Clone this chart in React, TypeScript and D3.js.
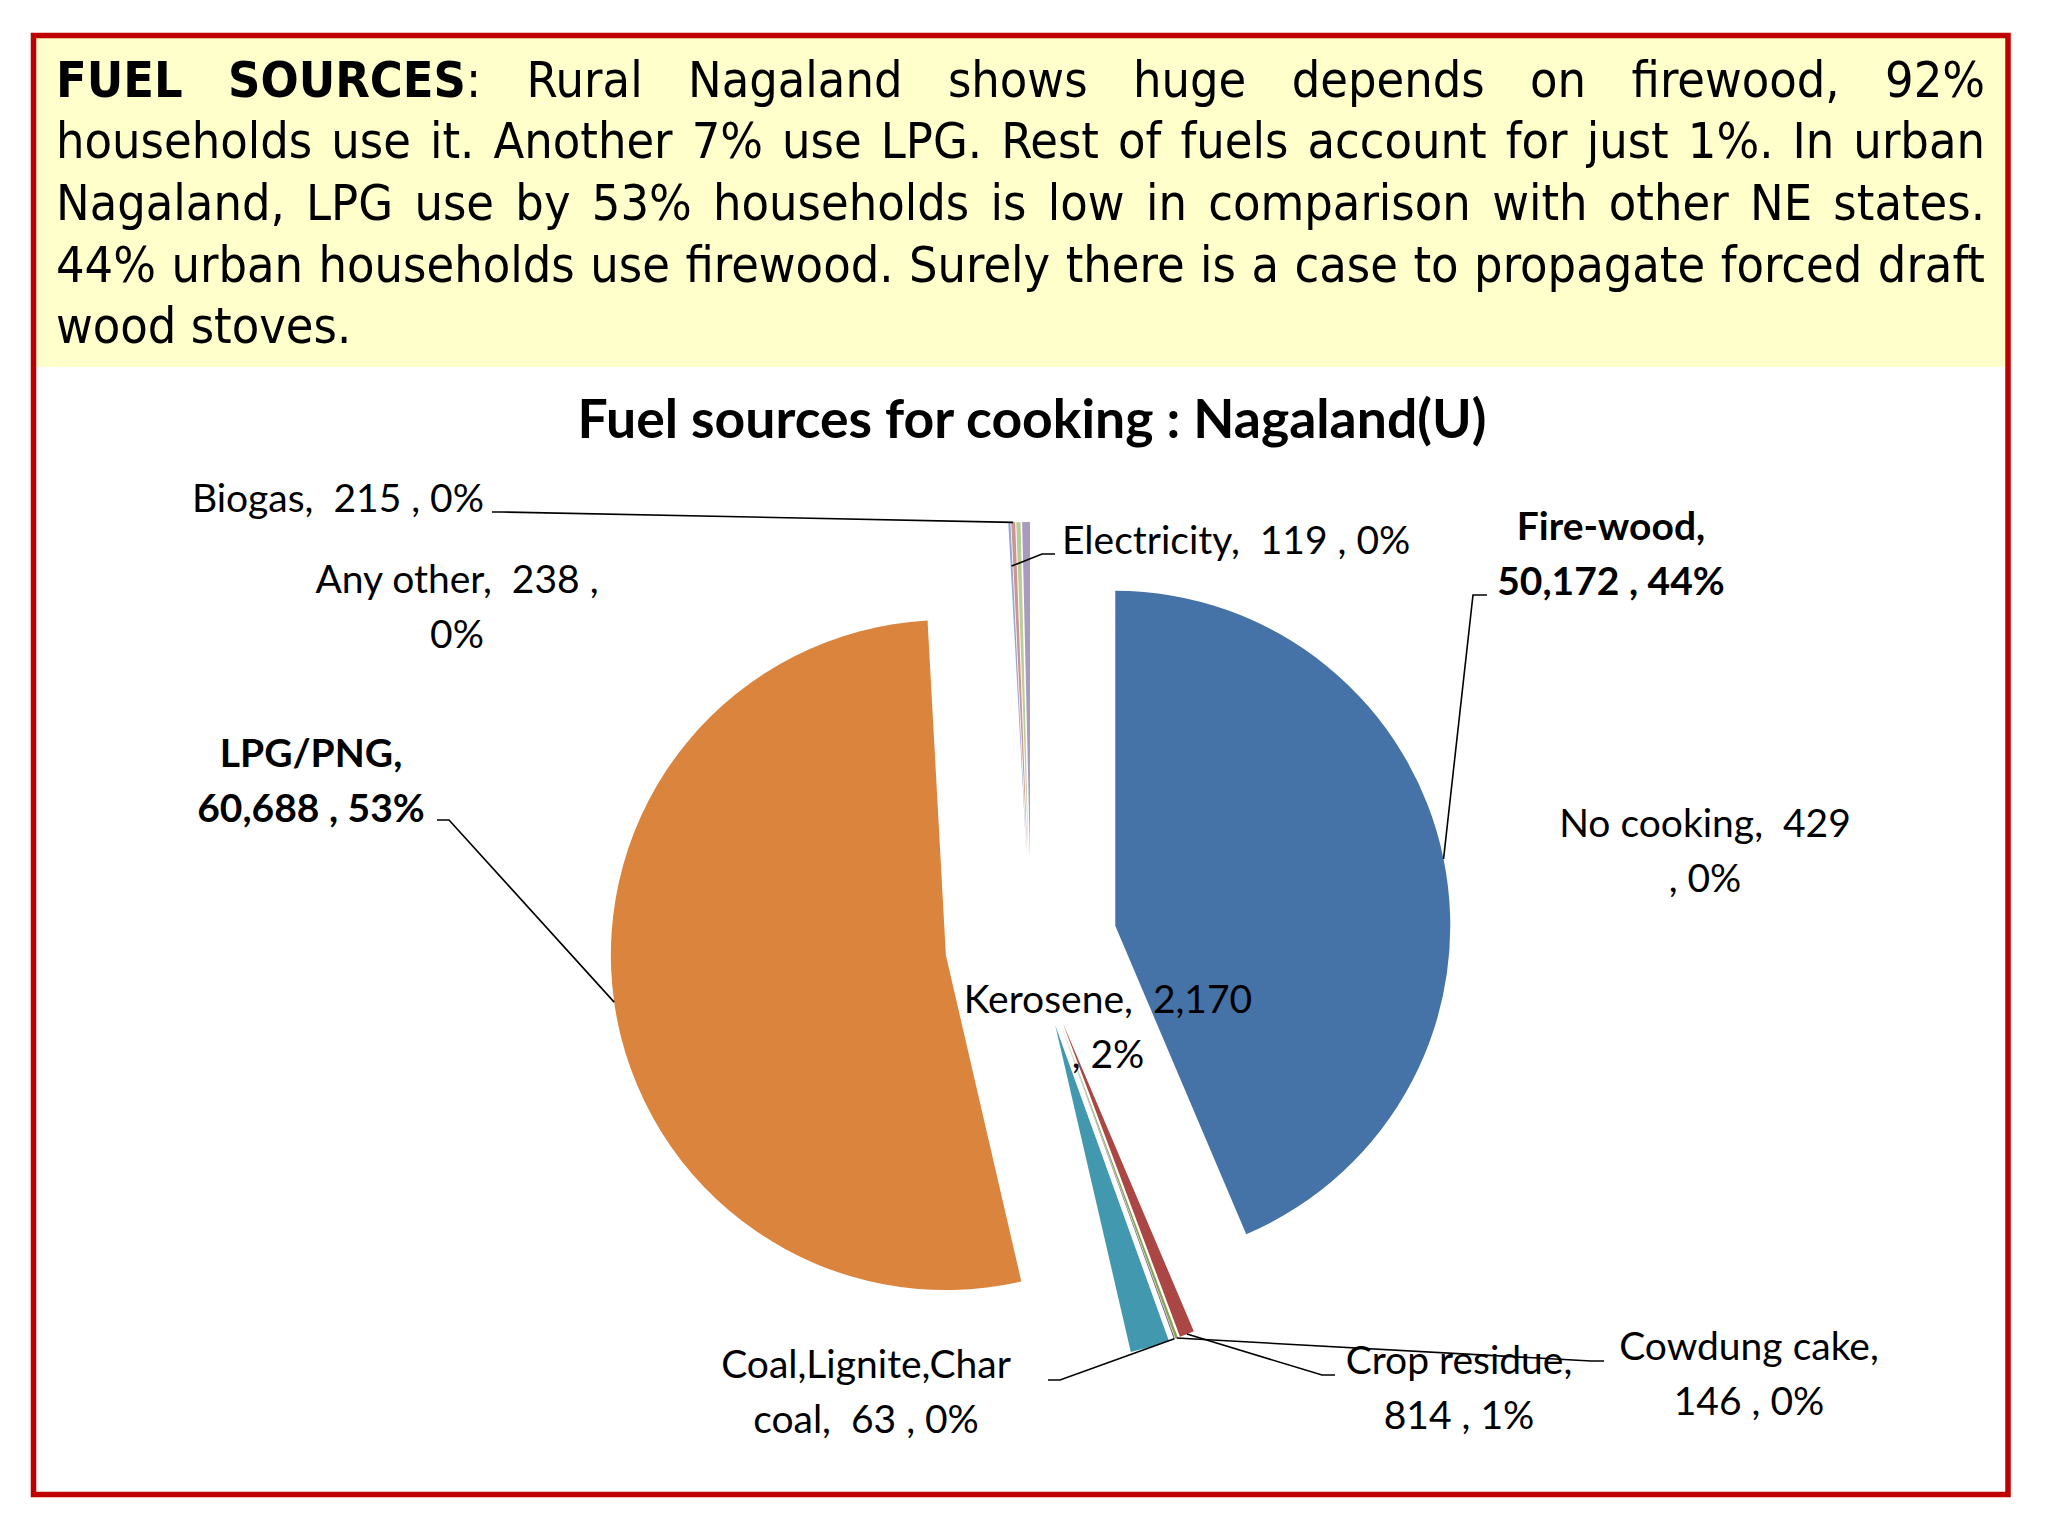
import * as d3 from "d3";
import { useEffect, useRef } from "react";

// data (households, urban Nagaland)
const categories = [
  "Fire-wood",
  "Crop residue",
  "Cowdung cake",
  "Coal,Lignite,Char coal",
  "Kerosene",
  "LPG/PNG",
  "Electricity",
  "Biogas",
  "Any other",
  "No cooking",
];
const households = [50172, 814, 146, 63, 2170, 60688, 119, 215, 238, 429];
const sliceColors = [
  "#4572A7",
  "#AA4643",
  "#89A54E",
  "#7B6496",
  "#4198AF",
  "#DB843D",
  "#93A9CF",
  "#D19392",
  "#B9CD96",
  "#A99BBD",
];

const chartTitle = "Fuel sources for cooking : Nagaland(U)";

// header paragraph, one entry per printed line; "*" marks bold words
const headerLines = [
  "*FUEL *SOURCES : Rural Nagaland shows huge depends on firewood, 92%",
  "households use it. Another 7% use LPG. Rest of fuels account for just 1%. In urban",
  "Nagaland, LPG use by 53% households is low in comparison with other NE states.",
  "44% urban households use firewood. Surely there is a case to propagate forced draft",
  "wood stoves.",
];

// where each data label sits (same order as categories)
const labelLayout = [
  { x: 1611, y: 540, bold: true, wrap: "cat", leader: [[1487, 595], [1473, 595]], reach: 1 },
  { x: 1459, y: 1374, wrap: "cat", leader: [[1335, 1375], [1322, 1375]], reach: 1 },
  { x: 1749, y: 1360, wrap: "cat", leader: [[1604, 1361], [1591, 1361]], reach: 1 },
  { x: 866, y: 1378, wrap: "inCat", leader: [[1048, 1380], [1060, 1380]], reach: 1 },
  { x: 1108, y: 1013, wrap: "num" },
  { x: 311, y: 767, bold: true, wrap: "cat", leader: [[437, 820], [449, 820]], reach: 1 },
  { x: 1062, y: 554, anchor: "start", wrap: "none", leader: [[1055, 554], [1042, 554]], reach: 0.87 },
  { x: 484, y: 512, anchor: "end", wrap: "none", leader: [[492, 512], [502, 512]], reach: 1 },
  { x: 457, y: 593, wrap: "numComma" },
  { x: 1705, y: 837, wrap: "num" },
];

const W = 2048;
const H = 1536;
const CX = 1031;
const CY = 943;
const R = 335;
const EXPLODE = 86;

const labelFont = "Lato, 'Open Sans', sans-serif";
const headFont = "'DejaVu Sans Condensed', 'DejaVu Sans', sans-serif";

function labelLines(i: number, total: number): string[] {
  const cat = categories[i];
  const v = d3.format(",")(households[i]);
  const pct = Math.round((households[i] / total) * 100) + "%";
  const mode = labelLayout[i].wrap;
  if (mode === "cat") return [`${cat},`, `${v} , ${pct}`];
  if (mode === "num") return [`${cat},  ${v}`, `, ${pct}`];
  if (mode === "numComma") return [`${cat},  ${v} ,`, pct];
  if (mode === "inCat") {
    const k = cat.lastIndexOf(" ");
    return [cat.slice(0, k), `${cat.slice(k + 1)},  ${v} , ${pct}`];
  }
  return [`${cat},  ${v} , ${pct}`];
}

export default function App() {
  const ref = useRef<SVGSVGElement>(null);

  useEffect(() => {
    const svg = d3.select(ref.current);
    svg.selectAll("*").remove();

    // frame
    svg.append("rect").attr("width", W).attr("height", H).attr("fill", "#ffffff");
    svg
      .append("rect")
      .attr("x", 36)
      .attr("y", 38)
      .attr("width", 1969)
      .attr("height", 329)
      .attr("fill", "#FFFFCC");
    svg
      .append("rect")
      .attr("x", 33.5)
      .attr("y", 35.5)
      .attr("width", 1974.5)
      .attr("height", 1459)
      .attr("fill", "none")
      .attr("stroke", "#C00000")
      .attr("stroke-width", 5.5);

    // header paragraph, justified by hand
    const ctx = document.createElement("canvas").getContext("2d")!;
    const headSize = 50;
    const left = 56;
    const right = 1985;
    const baselines = [97, 158, 220, 282, 343];
    const measure = (t: string, b: boolean) => {
      ctx.font = `${b ? "bold " : ""}${headSize}px ${headFont}`;
      return ctx.measureText(t).width;
    };

    headerLines.forEach((line, li) => {
      // colon follows SOURCES directly, in regular weight
      const words = line.replace(" : ", ": ").split(" ").map((w) => {
        const bold = w.startsWith("*");
        const t = bold ? w.slice(1) : w;
        if (bold && t.endsWith(":")) {
          return [
            { t: t.slice(0, -1), b: true },
            { t: ":", b: false },
          ];
        }
        return [{ t, b: bold }];
      });
      const widths = words.map((segs) => d3.sum(segs, (s) => measure(s.t, s.b)));
      const justify = li < headerLines.length - 1;
      const gap = justify
        ? (right - left - d3.sum(widths)) / (words.length - 1)
        : measure(" ", false);
      let x = left;
      words.forEach((segs, wi) => {
        const txt = svg
          .append("text")
          .attr("x", x)
          .attr("y", baselines[li])
          .attr("font-family", headFont)
          .attr("font-size", headSize)
          .attr("fill", "#000");
        segs.forEach((s) => {
          txt.append("tspan").attr("font-weight", s.b ? "bold" : "normal").text(s.t);
        });
        x += widths[wi] + gap;
      });
    });

    // title
    svg
      .append("text")
      .attr("x", 1032)
      .attr("y", 438)
      .attr("text-anchor", "middle")
      .attr("font-family", labelFont)
      .attr("font-weight", "bold")
      .attr("font-size", 53.5)
      .attr("fill", "#000")
      .text(chartTitle);

    // exploded pie
    const total = d3.sum(households);
    const arcs = d3
      .pie<number>()
      .sort(null)
      .value((d) => d)(households);
    const arc = d3.arc<d3.PieArcDatum<number>>().innerRadius(0).outerRadius(R);
    const mid = (a: d3.PieArcDatum<number>) => (a.startAngle + a.endAngle) / 2;

    svg
      .append("g")
      .selectAll("path")
      .data(arcs)
      .enter()
      .append("path")
      .attr("transform", (a) => {
        const m = mid(a);
        return `translate(${CX + Math.sin(m) * EXPLODE},${CY - Math.cos(m) * EXPLODE})`;
      })
      .attr("d", (a) => arc(a) as string)
      .attr("fill", (a, i) => sliceColors[i]);

    // leader lines
    arcs.forEach((a, i) => {
      const lay = labelLayout[i];
      if (!lay.leader) return;
      const m = mid(a);
      const dist = EXPLODE + R * (lay.reach ?? 1);
      const end: [number, number] = [CX + Math.sin(m) * dist, CY - Math.cos(m) * dist];
      const pts = [...(lay.leader as [number, number][]), end];
      svg
        .append("path")
        .attr("d", d3.line()(pts) as string)
        .attr("fill", "none")
        .attr("stroke", "#000")
        .attr("stroke-width", 1.6);
    });

    // data labels
    arcs.forEach((a, i) => {
      const lay = labelLayout[i];
      const txt = svg
        .append("text")
        .attr("text-anchor", lay.anchor ?? "middle")
        .attr("font-family", labelFont)
        .attr("font-size", 39)
        .attr("font-weight", lay.bold ? "bold" : "normal")
        .attr("fill", "#000")
        .style("white-space", "pre");
      labelLines(i, total).forEach((ln, k) => {
        txt
          .append("tspan")
          .attr("x", lay.x)
          .attr("y", lay.y + k * 55)
          .text(ln);
      });
    });
  }, []);

  return (
    <svg
      ref={ref}
      width={W}
      height={H}
      style={{ position: "absolute", left: 0, top: 0, display: "block" }}
    />
  );
}
